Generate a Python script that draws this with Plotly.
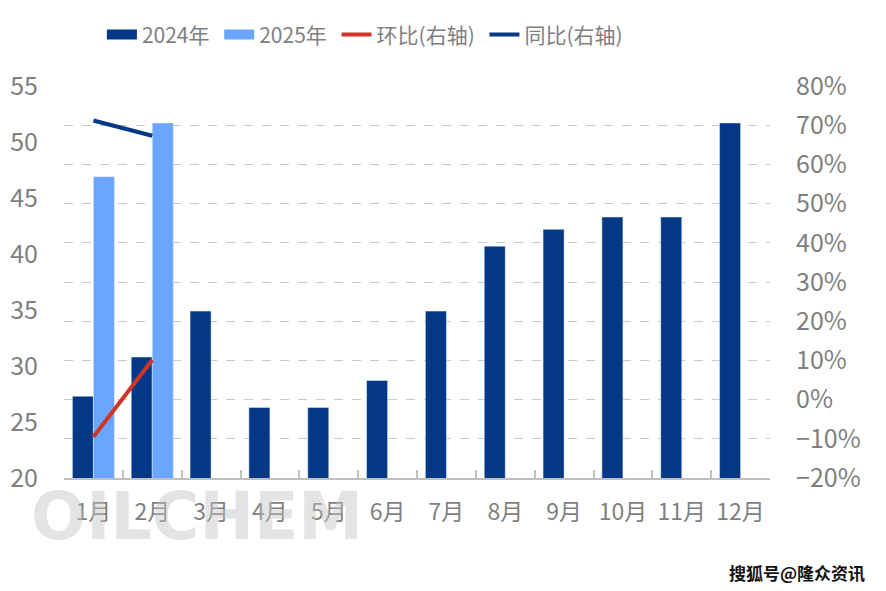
import plotly.graph_objects as go

months = ["1月", "2月", "3月", "4月", "5月", "6月", "7月", "8月", "9月", "10月", "11月", "12月"]
v2024 = [27.3, 30.8, 34.9, 26.3, 26.3, 28.7, 34.9, 40.7, 42.2, 43.3, 43.3, 51.7]
v2025 = [46.9, 51.7, None, None, None, None, None, None, None, None, None, None]
mom = [-9.5, 10.1]   # 环比 %
yoy = [71.2, 67.3]   # 同比 %
line_months = ["1月", "2月"]
legend_names = ["2024年", "2025年", "环比(右轴)", "同比(右轴)"]

FONT = "Noto Sans CJK SC"
GRAY = "#7f7f7f"
C24 = "#023885"
C25 = "#6AA6FF"
CRED = "#D03528"
PAD = "\u00a0"

fig = go.Figure()
fig.add_trace(go.Bar(x=months, y=v2024, name=legend_names[0], marker_color=C24, showlegend=False))
fig.add_trace(go.Bar(x=months, y=v2025, name=legend_names[1], marker_color=C25, showlegend=False))
# legend proxies for the bars (wide rectangles)
fig.add_trace(go.Scatter(x=[None], y=[None], name=legend_names[0] + PAD, mode="lines",
                         line=dict(color=C24, width=15)))
fig.add_trace(go.Scatter(x=[None], y=[None], name=legend_names[1] + PAD, mode="lines",
                         line=dict(color=C25, width=15)))
fig.add_trace(go.Scatter(x=line_months, y=mom, name=legend_names[2] + PAD, yaxis="y2", mode="lines",
                         line=dict(color=CRED, width=4)))
fig.add_trace(go.Scatter(x=line_months, y=yoy, name=legend_names[3], yaxis="y2", mode="lines",
                         line=dict(color=C24, width=4)))

fig.update_layout(
    width=886, height=591,
    margin=dict(l=64, r=116, t=86, b=113, autoexpand=False),
    plot_bgcolor="white", paper_bgcolor="white",
    font=dict(family=FONT, size=24, color=GRAY),
    barmode="group", bargap=0.286, bargroupgap=0,
    legend=dict(orientation="h", xref="container", x=0.115, xanchor="left",
                yref="container", y=0.941, yanchor="middle",
                font=dict(size=21, color=GRAY), itemwidth=30, traceorder="normal"),
    xaxis=dict(type="category", showline=True, linecolor="#bfbfbf", linewidth=2,
               ticks="inside", tickson="boundaries", ticklen=8, tickcolor="#bfbfbf", tickwidth=2,
               showgrid=False, tickangle=0, ticklabelstandoff=12,
               tickfont=dict(size=23, color=GRAY)),
    yaxis=dict(range=[20, 55], dtick=5, showgrid=False, zeroline=False,
               tickfont=dict(size=25, color=GRAY), ticklabelstandoff=25),
    yaxis2=dict(range=[-20, 80], dtick=10, overlaying="y", side="right", ticksuffix="%",
                showgrid=True, gridcolor="#c8c8c8", griddash="dash", gridwidth=1, zeroline=False,
                tickfont=dict(size=25, color=GRAY), ticklabelstandoff=25),
    annotations=[
        dict(text="<b>OILCHEM</b>", xref="paper", yref="paper", x=-0.05, y=-0.097,
             xanchor="left", yanchor="middle", showarrow=False,
             font=dict(family="DejaVu Sans", size=65, color="rgba(195,195,195,0.45)")),
        dict(text="<b>搜狐号@隆众资讯</b>", xref="paper", yref="paper", x=1.137, y=-0.242,
             xanchor="right", yanchor="middle", showarrow=False,
             font=dict(family=FONT, size=17, color="#111111")),
    ],
)

fig.write_html("out.html", config={"displayModeBar": False},
               post_script="document.body.style.margin='0';")
